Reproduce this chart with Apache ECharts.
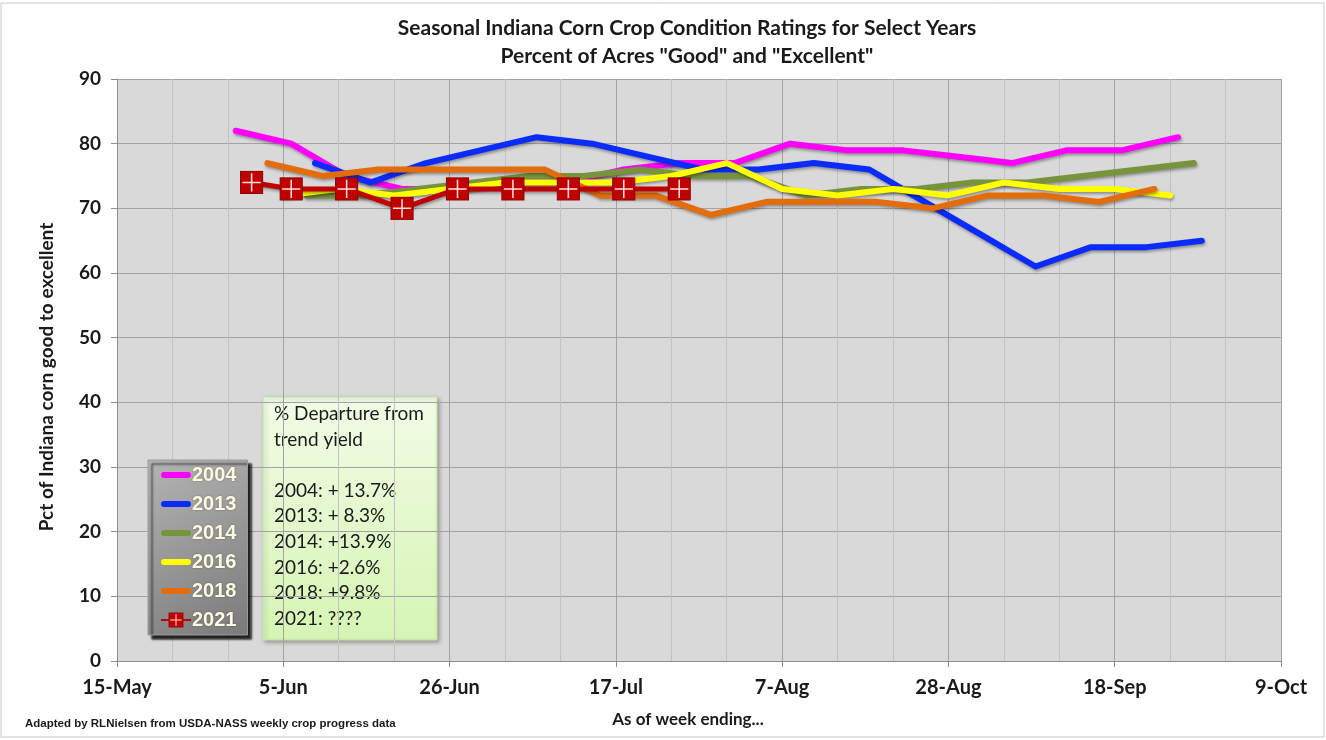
<!DOCTYPE html>
<html>
<head>
<meta charset="utf-8">
<script src="https://cdn.jsdelivr.net/npm/echarts@6/dist/echarts.min.js"></script>
<style>
  html, body { margin: 0; padding: 0; background: #fff; }
  #chart { width: 1326px; height: 740px; }
</style>
</head>
<body>
<div id="chart"></div>
<script>
// week-ending dates (month-day) and % good+excellent
const tickLabels = ['15-May', '5-Jun', '26-Jun', '17-Jul', '7-Aug', '28-Aug', '18-Sep', '9-Oct']

const dates2004 = ['5-30', '6-6', '6-13', '6-20', '6-27', '7-4', '7-11', '7-18', '7-25', '8-1', '8-8', '8-15', '8-22', '8-29', '9-5', '9-12', '9-19', '9-26']
const values2004 = [82, 80, 75, 73, 73, 74, 74, 76, 77, 77, 80, 79, 79, 78, 77, 79, 79, 81]

const dates2013 = ['6-9', '6-16', '6-23', '6-30', '7-7', '7-14', '7-21', '7-28', '8-4', '8-11', '8-18', '8-25', '9-1', '9-8', '9-15', '9-22', '9-29']
const values2013 = [77, 74, 77, 79, 81, 80, 78, 76, 76, 77, 76, 71, 66, 61, 64, 64, 65]

const dates2014 = ['6-8', '6-15', '6-22', '6-29', '7-6', '7-13', '7-20', '7-27', '8-3', '8-10', '8-17', '8-24', '8-31', '9-7', '9-14', '9-21', '9-28']
const values2014 = [72, 72, 73, 74, 75, 75, 76, 75, 75, 72, 73, 73, 74, 74, 75, 76, 77]

const dates2016 = ['6-5', '6-12', '6-19', '6-26', '7-3', '7-10', '7-17', '7-24', '7-31', '8-7', '8-14', '8-21', '8-28', '9-4', '9-11', '9-18', '9-25']
const values2016 = [72, 73, 72, 73, 74, 74, 74, 75, 77, 73, 72, 73, 72, 74, 73, 73, 72]

const dates2018 = ['6-3', '6-10', '6-17', '6-24', '7-1', '7-8', '7-15', '7-22', '7-29', '8-5', '8-12', '8-19', '8-26', '9-2', '9-9', '9-16', '9-23']
const values2018 = [77, 75, 76, 76, 76, 76, 72, 72, 69, 71, 71, 71, 70, 72, 72, 71, 73]

const dates2021 = ['6-1', '6-6', '6-13', '6-20', '6-27', '7-4', '7-11', '7-18', '7-25']
const values2021 = [74, 73, 73, 70, 73, 73, 73, 73, 73]

const boxLines = ['% Departure from', 'trend yield', '', '2004: + 13.7%', '2013: + 8.3%', '2014: +13.9%', '2016: +2.6%', '2018: +9.8%', '2021: ????']

// days after 15-May
const toDay = (md) => {
  const [m, d] = md.split('-').map(Number)
  return (Date.UTC(2021, m - 1, d) - Date.UTC(2021, 4, 15)) / 86400000
}
const pairs = (dates, vals) => dates.map((d, i) => [toDay(d), vals[i]])

const markSvg = '<svg xmlns="http://www.w3.org/2000/svg" width="26" height="26">' +
  '<rect x="1.5" y="1.5" width="23" height="23" fill="#C00000" stroke="#8A0000" stroke-width="1"/>' +
  '<path d="M13 3.5V22.5M3.5 13H22.5" stroke="#FFE0E0" stroke-width="1.6"/></svg>'
const markSymbol = 'image://data:image/svg+xml;utf8,' + encodeURIComponent(markSvg)
// plain thick bar for the legend entries of the line-only years
const barIcon = 'path://M3,0H27A3,3,0,0,1,27,6H3A3,3,0,0,1,3,0Z'

const lineShadow = { shadowBlur: 3, shadowColor: 'rgba(0,0,0,0.35)', shadowOffsetX: 1, shadowOffsetY: 2 }

const mkLine = (name, data, color) => ({
  name: name,
  type: 'line',
  data: data,
  symbol: 'none',
  color: color,
  lineStyle: Object.assign({ width: 6, color: color, cap: 'round', join: 'round' }, lineShadow),
  z: 2
})

const chart = echarts.init(document.getElementById('chart'))
const font = 'Lato, "Open Sans", sans-serif'

const option = {
  animation: false,
  backgroundColor: '#fff',
  grid: {
    left: 117,
    right: 45,
    top: 79,
    bottom: 79,
    show: true,
    backgroundColor: '#D9D9D9',
    borderWidth: 0
  },
  legend: {
    data: [
      { name: '2004', icon: barIcon },
      { name: '2013', icon: barIcon },
      { name: '2014', icon: barIcon },
      { name: '2016', icon: barIcon },
      { name: '2018', icon: barIcon },
      { name: '2021' }
    ],
    orient: 'vertical',
    left: 148,
    top: 460,
    padding: [5, 11, 5, 12],
    itemGap: 9,
    itemWidth: 30,
    itemHeight: 20,
    symbolKeepAspect: true,
    selectedMode: false,
    backgroundColor: new echarts.graphic.LinearGradient(0, 0, 1, 1, [
      { offset: 0, color: '#B4B4B4' },
      { offset: 1, color: '#7A7A7A' }
    ]),
    borderColor: '#9A9A9A',
    borderWidth: 1,
    shadowColor: 'rgba(0,0,0,0.85)',
    shadowBlur: 2,
    shadowOffsetX: 4,
    shadowOffsetY: 4,
    textStyle: {
      color: '#FFFBE0',
      fontFamily: '"Liberation Sans", Arial, sans-serif',
      fontWeight: 'bold',
      fontSize: 20,
      padding: [0, 0, 0, -4],
      textShadowColor: 'rgba(0,0,0,0.35)',
      textShadowBlur: 2
    }
  },
  xAxis: {
    type: 'value',
    min: 0,
    max: 147,
    interval: 21,
    axisLine: { show: true, lineStyle: { color: '#8C8C8C' } },
    axisTick: { show: true, length: 6, lineStyle: { color: '#8C8C8C' } },
    axisLabel: {
      margin: 17,
      color: '#1a1a1a',
      fontFamily: font,
      fontWeight: 'bold',
      fontSize: 20,
      formatter: (v) => tickLabels[Math.round(v / 21)]
    },
    splitLine: { show: true, lineStyle: { color: '#A3A3A3' } },
    minorTick: { show: false, splitNumber: 3 },
    minorSplitLine: { show: true, lineStyle: { color: '#C2C2C2' } }
  },
  yAxis: {
    type: 'value',
    min: 0,
    max: 90,
    interval: 10,
    axisLine: { show: true, lineStyle: { color: '#8C8C8C' } },
    axisTick: { show: true, length: 6, lineStyle: { color: '#8C8C8C' } },
    axisLabel: {
      margin: 16,
      color: '#1a1a1a',
      fontFamily: font,
      fontWeight: 'bold',
      fontSize: 19
    },
    splitLine: { show: true, lineStyle: { color: '#A3A3A3' } }
  },
  graphic: [
    {
      type: 'rect',
      shape: { x: 1, y: 3, width: 1323, height: 734 },
      style: { fill: 'none', stroke: '#C8C8C8', lineWidth: 1 },
      silent: true,
      z: -10
    },
    {
      type: 'text',
      x: 687,
      y: 14,
      style: {
        text: 'Seasonal Indiana Corn Crop Condition Ratings for Select Years\nPercent of Acres "Good" and "Excellent"',
        textAlign: 'center',
        font: 'bold 21px ' + font,
        lineHeight: 28,
        fill: '#1a1a1a'
      }
    },
    {
      type: 'text',
      x: 47,
      y: 377,
      rotation: Math.PI / 2,
      style: {
        text: 'Pct of Indiana corn good to excellent',
        textAlign: 'center',
        textVerticalAlign: 'middle',
        font: 'bold 19px ' + font,
        fill: '#1a1a1a'
      }
    },
    {
      type: 'text',
      x: 688,
      y: 720,
      style: {
        text: 'As of week ending...',
        textAlign: 'center',
        textVerticalAlign: 'middle',
        font: 'bold 17px ' + font,
        fill: '#1a1a1a'
      }
    },
    {
      type: 'text',
      x: 25,
      y: 724,
      style: {
        text: 'Adapted by RLNielsen from USDA-NASS weekly crop progress data',
        textVerticalAlign: 'middle',
        font: 'bold 11.5px "Liberation Sans", Arial, sans-serif',
        fill: '#1a1a1a'
      }
    },
    {
      type: 'group',
      x: 263,
      y: 397,
      z: 20,
      children: [
        {
          type: 'rect',
          shape: { width: 174, height: 243 },
          style: {
            fill: new echarts.graphic.LinearGradient(0, 0, 0, 1, [
              { offset: 0, color: '#F2FCE6' },
              { offset: 1, color: '#D6F5B4' }
            ]),
            stroke: '#C4E3A6',
            lineWidth: 1,
            shadowBlur: 4,
            shadowColor: 'rgba(0,0,0,0.3)',
            shadowOffsetX: 2,
            shadowOffsetY: 2
          }
        },
        {
          type: 'text',
          x: 11,
          y: 4,
          style: {
            text: boxLines.join('\n'),
            font: '19px ' + font,
            lineHeight: 25.6,
            fill: '#1a1a1a'
          }
        }
      ]
    }
  ],
  series: [
    mkLine('2004', pairs(dates2004, values2004), '#FF00FF'),
    mkLine('2013', pairs(dates2013, values2013), '#0A2BFF'),
    mkLine('2014', pairs(dates2014, values2014), '#77933C'),
    mkLine('2016', pairs(dates2016, values2016), '#FFFF00'),
    mkLine('2018', pairs(dates2018, values2018), '#E46C0A'),
    {
      name: '2021',
      type: 'line',
      data: pairs(dates2021, values2021),
      symbol: markSymbol,
      symbolSize: 25,
      showSymbol: true,
      color: '#C00000',
      lineStyle: Object.assign({ width: 5, color: '#C00000' }, lineShadow),
      z: 3
    }
  ]
}

chart.setOption(option)
window.addEventListener('resize', () => {
  chart.resize()
})
</script>
</body>
</html>
